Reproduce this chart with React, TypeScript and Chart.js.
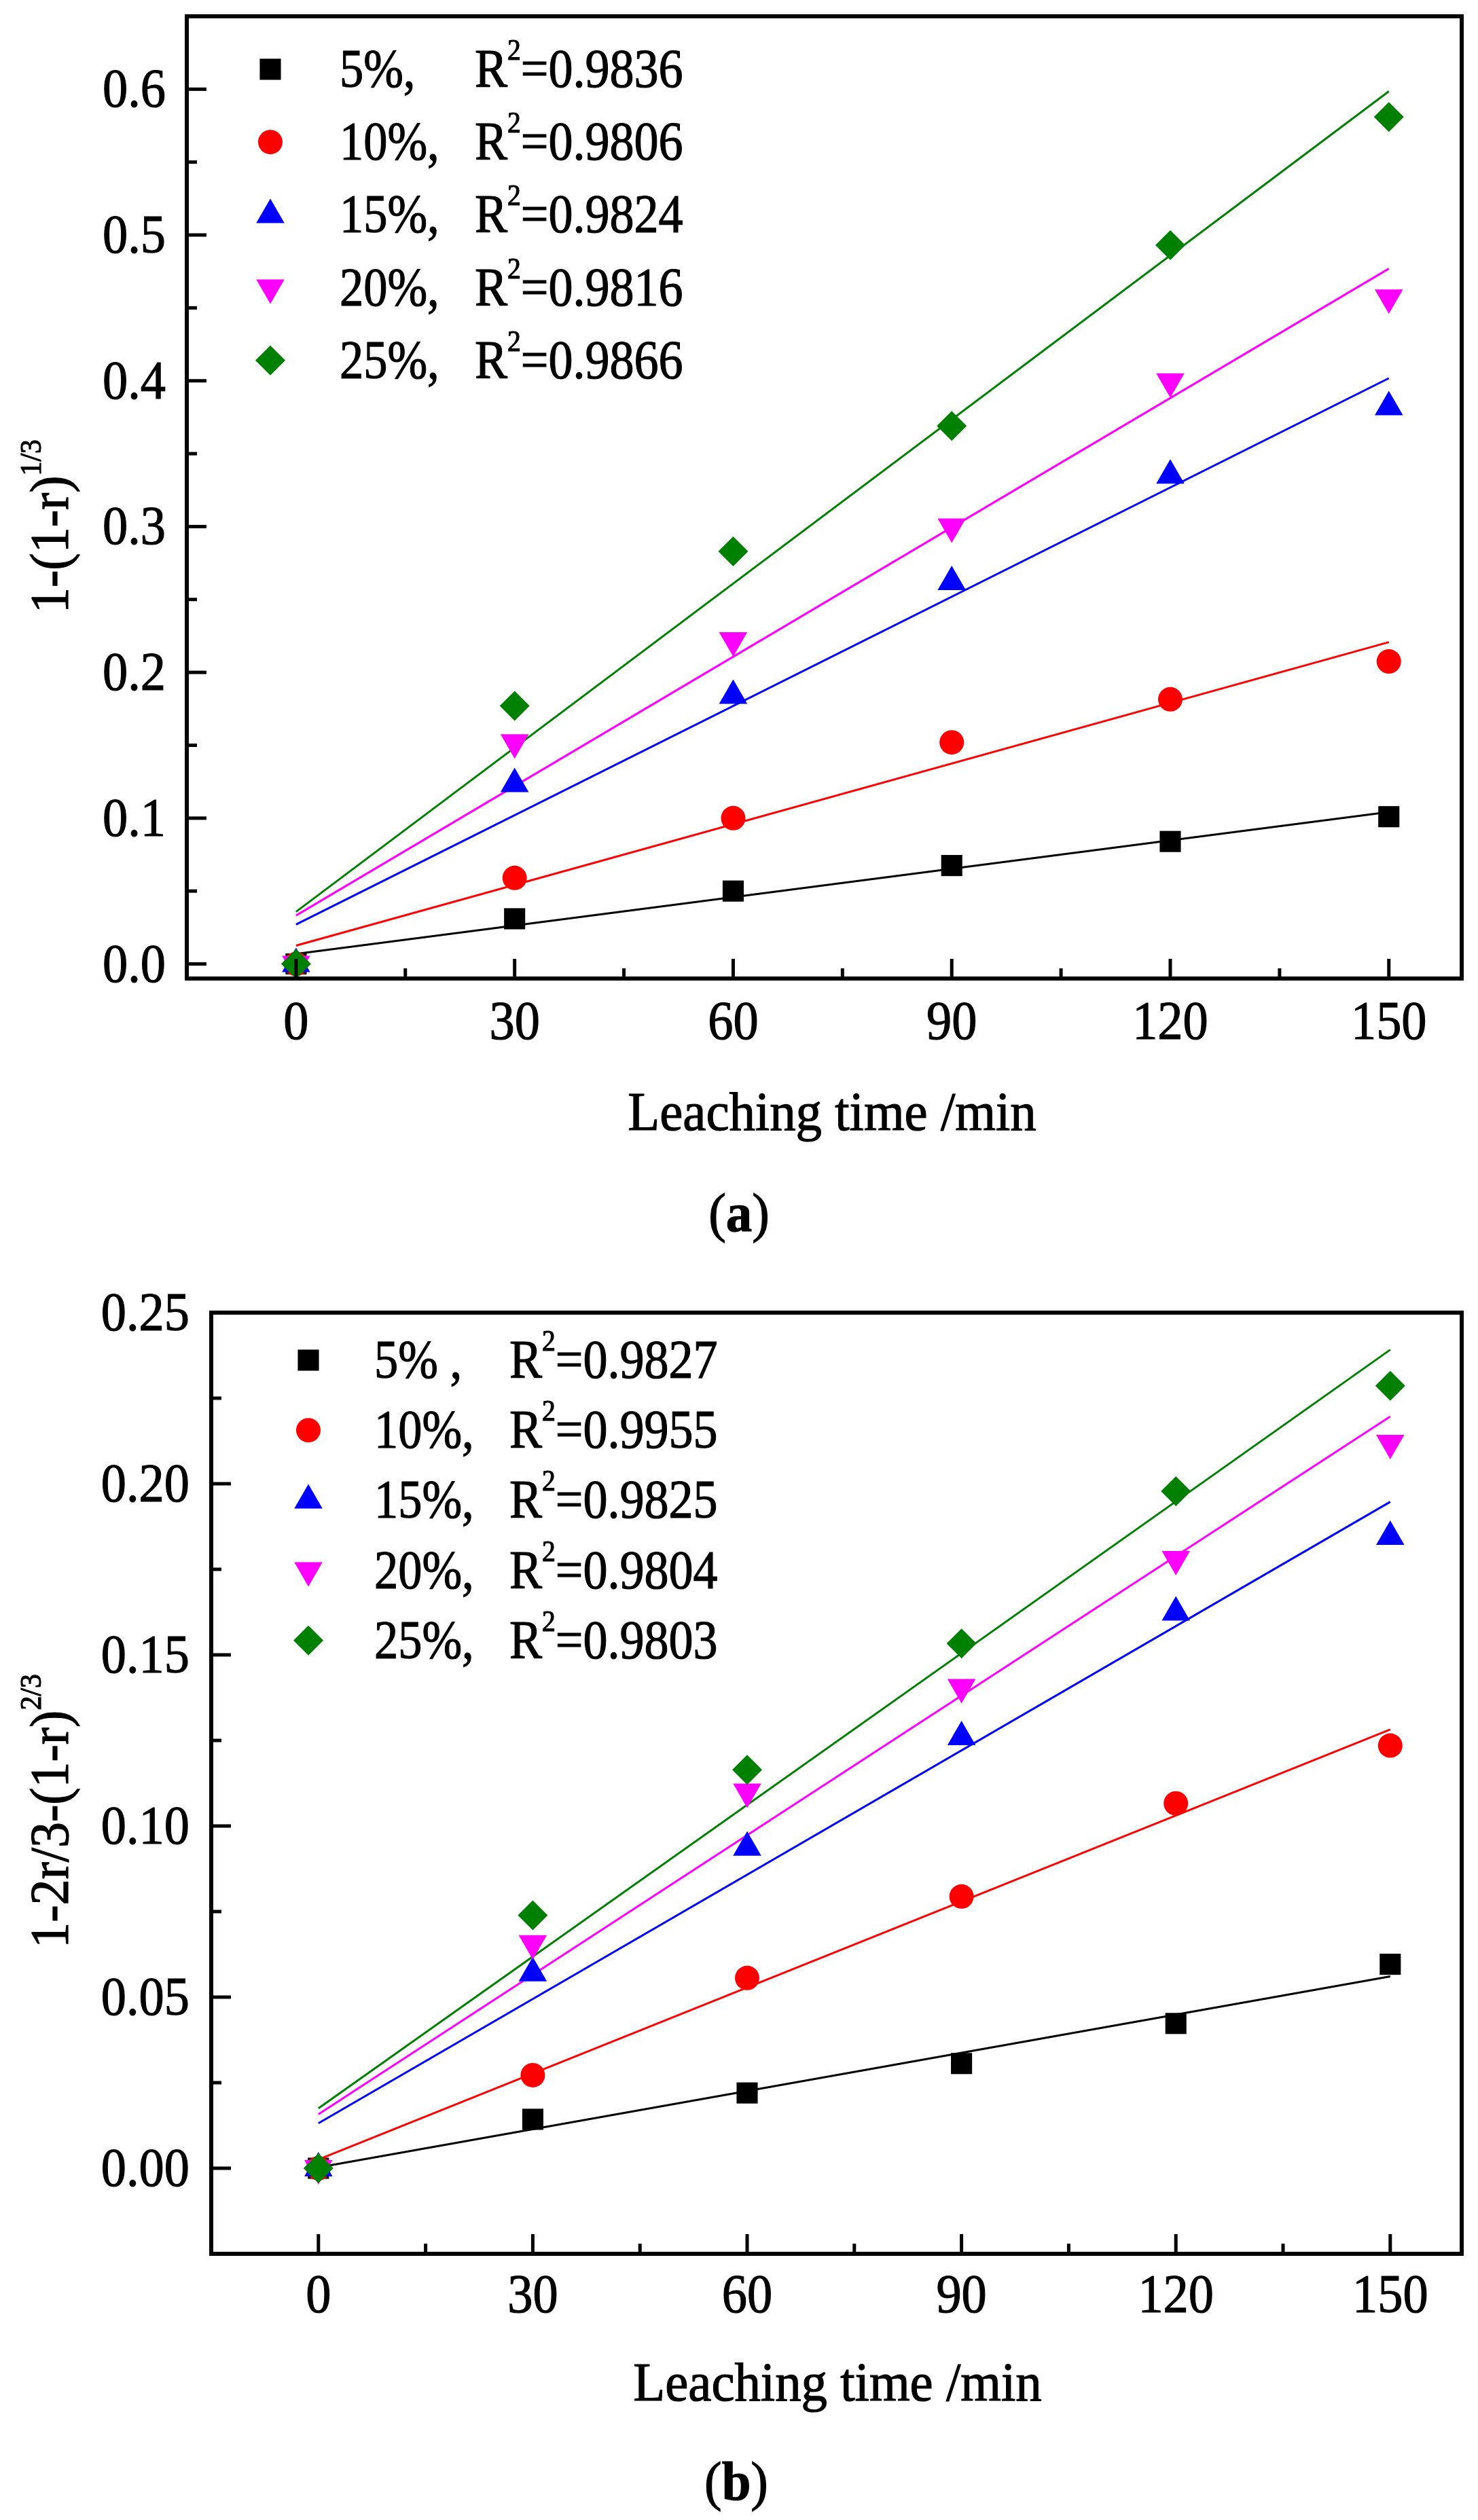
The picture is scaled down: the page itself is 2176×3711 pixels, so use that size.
import React, { useRef, useEffect } from "react";
import Chart from "chart.js/auto";
import { drawPoint } from "chart.js/helpers";

const FONT = "'Liberation Serif', 'Times New Roman', serif";
const W = 2176;
const SIZE = 80;

// leaching time, min
const leachTimes = [0, 30, 60, 90, 120, 150];
const xTicks = [0, 30, 60, 90, 120, 150];

const concLabelsA = ["5%,", "10%,", "15%,", "20%,", "25%,"];
const concLabelsB = ["5% ,", "10%,", "15%,", "20%,", "25%,"];
const r2A = ["0.9836", "0.9806", "0.9824", "0.9816", "0.9866"];
const r2B = ["0.9827", "0.9955", "0.9825", "0.9804", "0.9803"];

// (a) 1-(1-r)^(1/3)
const a5 = [0, 0.031, 0.05, 0.0675, 0.084, 0.101];
const a10 = [0, 0.059, 0.1, 0.152, 0.1815, 0.2075];
const a15 = [0, 0.1235, 0.184, 0.262, 0.335, 0.382];
const a20 = [0, 0.152, 0.222, 0.3, 0.3995, 0.457];
const a25 = [0, 0.177, 0.283, 0.369, 0.493, 0.581];
const yTicksA = [0, 0.1, 0.2, 0.3, 0.4, 0.5, 0.6];

// (b) 1-2r/3-(1-r)^(2/3)
const b5 = [0, 0.0143, 0.022, 0.0306, 0.0423, 0.0596];
const b10 = [0, 0.0272, 0.0556, 0.0794, 0.1066, 0.1235];
const b15 = [0, 0.057, 0.0937, 0.126, 0.1624, 0.1845];
const b20 = [0, 0.0657, 0.11, 0.1406, 0.178, 0.2119];
const b25 = [0, 0.0739, 0.1164, 0.1533, 0.1978, 0.2286];
const yTicksB = [0, 0.05, 0.1, 0.15, 0.2, 0.25];

const colors = ["#000000", "#ff0000", "#0000ff", "#ff00ff", "#008000"];
const markerStyles = ["rect", "circle", "triangle", "triangle", "rectRot"];
const markerRotation = [0, 0, 0, 180, 0];
const markerRadius = [22, 18, 24, 24, 22];

// least squares line through the points, drawn from first to last time
function linFit(xs: number[], ys: number[]) {
	const n = xs.length;
	const mx = xs.reduce((s, v) => s + v, 0) / n;
	const my = ys.reduce((s, v) => s + v, 0) / n;
	let sxy = 0;
	let sxx = 0;
	for (let i = 0; i < n; i++) {
		sxy += (xs[i] - mx) * (ys[i] - my);
		sxx += (xs[i] - mx) * (xs[i] - mx);
	}
	const b = sxy / sxx;
	const a = my - b * mx;
	return [
		{ x: xs[0], y: a + b * xs[0] },
		{ x: xs[n - 1], y: a + b * xs[n - 1] },
	];
}

// text runs, squeezed a little sideways like the original figure
type Run = { t: string; size: number; rise?: number; bold?: boolean };

function runFont(r: Run) {
	return `${r.bold ? "bold " : ""}${r.size}px ${FONT}`;
}

function runsWidth(ctx, runs: Run[], sx: number) {
	let w = 0;
	runs.forEach((r) => {
		ctx.font = runFont(r);
		w += ctx.measureText(r.t).width;
	});
	return w * sx;
}

// align: 0 left, 0.5 centre, 1 right
function drawRuns(ctx, runs: Run[], x: number, base: number, sx: number, align = 0) {
	const w = runsWidth(ctx, runs, sx);
	ctx.save();
	ctx.translate(x - w * align, base);
	ctx.scale(sx, 1);
	ctx.textAlign = "left";
	ctx.textBaseline = "alphabetic";
	ctx.lineWidth = 1.2;
	ctx.strokeStyle = ctx.fillStyle;
	let cx = 0;
	runs.forEach((r) => {
		ctx.font = runFont(r);
		const y = -(r.rise || 0);
		ctx.fillText(r.t, cx, y);
		ctx.strokeText(r.t, cx, y);
		cx += ctx.measureText(r.t).width;
	});
	ctx.restore();
}

const sup = (t: string): Run => ({ t, size: SIZE * 0.55, rise: SIZE * 0.5 });
const txt = (t: string): Run => ({ t, size: SIZE });

interface PanelProps {
	top: number;
	height: number;
	series: number[][];
	labels: string[];
	r2: string[];
	yMin: number;
	yMax: number;
	yTicks: number[];
	decimals: number;
	area: { left: number; top: number; right: number; bottom: number };
	yLabelGap: number;
	xLabelDrop: number;
	yTitle: string;
	ySup: string;
	yTitleX: number;
	yTitleY: number;
	legend: { markerX: number; textX: number; r2X: number; firstY: number; step: number };
	xTitleX: number;
	xTitleBase: number;
	caption: string;
	captionX: number;
	captionBase: number;
}

const Panel: React.FC<PanelProps> = (p) => {
	const chartRef = useRef<HTMLCanvasElement | null>(null);
	const chartInstance = useRef<Chart | null>(null);

	useEffect(() => {
		if (chartInstance.current) {
			chartInstance.current.destroy();
			chartInstance.current = null;
		}
		if (!chartRef.current) return;
		const ctx = chartRef.current.getContext("2d");

		const datasets: any[] = [];
		p.series.forEach((ys, i) => {
			datasets.push({
				label: p.labels[i] + " fit",
				data: linFit(leachTimes, ys),
				showLine: true,
				borderColor: colors[i],
				borderWidth: 3,
				pointRadius: 0,
				fill: false,
				order: 10 + (4 - i),
			});
		});
		p.series.forEach((ys, i) => {
			datasets.push({
				label: p.labels[i],
				data: leachTimes.map((x, k) => ({ x, y: ys[k] })),
				showLine: false,
				pointStyle: markerStyles[i],
				pointRotation: markerRotation[i],
				pointRadius: markerRadius[i],
				pointBackgroundColor: colors[i],
				pointBorderColor: colors[i],
				pointBorderWidth: 0,
				order: 4 - i,
			});
		});

		const decor = {
			id: "decor",
			afterDraw(chart) {
				const c = chart.ctx;
				const ca = chart.chartArea;
				const xs = chart.scales.x;
				const ys = chart.scales.y;
				c.save();
				c.strokeStyle = "#000";
				c.fillStyle = "#000";

				// ticks pointing inward
				c.lineWidth = 5;
				xTicks.forEach((v, i) => {
					const px = xs.getPixelForValue(v);
					c.beginPath();
					c.moveTo(px, ca.bottom);
					c.lineTo(px, ca.bottom - 29);
					c.stroke();
					if (i > 0) {
						const mx = xs.getPixelForValue((v + xTicks[i - 1]) / 2);
						c.beginPath();
						c.moveTo(mx, ca.bottom);
						c.lineTo(mx, ca.bottom - 15);
						c.stroke();
					}
				});
				p.yTicks.forEach((v, i) => {
					const py = ys.getPixelForValue(v);
					c.beginPath();
					c.moveTo(ca.left, py);
					c.lineTo(ca.left + 29, py);
					c.stroke();
					if (i > 0) {
						const my = ys.getPixelForValue((v + p.yTicks[i - 1]) / 2);
						c.beginPath();
						c.moveTo(ca.left, my);
						c.lineTo(ca.left + 15, my);
						c.stroke();
					}
				});
				const last = p.yTicks[p.yTicks.length - 1];
				const step = p.yTicks[1] - p.yTicks[0];
				if (last + step / 2 < p.yMax) {
					const my = ys.getPixelForValue(last + step / 2);
					c.beginPath();
					c.moveTo(ca.left, my);
					c.lineTo(ca.left + 15, my);
					c.stroke();
				}

				// frame
				c.lineWidth = 6;
				c.strokeRect(ca.left, ca.top, ca.right - ca.left, ca.bottom - ca.top);

				// tick labels from the scales' own ticks
				xs.ticks.forEach((t) => {
					drawRuns(c, [txt(String(t.value))], xs.getPixelForValue(t.value), ca.bottom + p.xLabelDrop, 0.93, 0.5);
				});
				ys.ticks.forEach((t) => {
					drawRuns(
						c,
						[txt(Number(t.value).toFixed(p.decimals))],
						ca.left - p.yLabelGap,
						ys.getPixelForValue(t.value) + 26,
						0.93,
						1
					);
				});

				// legend
				p.labels.forEach((lab, i) => {
					const y = p.legend.firstY + i * p.legend.step;
					c.fillStyle = colors[i];
					drawPoint(
						c,
						{
							pointStyle: markerStyles[i],
							rotation: markerRotation[i],
							radius: markerRadius[i],
							borderWidth: 0,
						},
						p.legend.markerX,
						y
					);
					c.fillStyle = "#000";
					drawRuns(c, [txt(lab)], p.legend.textX, y + 26, 0.88);
					drawRuns(c, [txt("R"), sup("2"), txt("=" + p.r2[i])], p.legend.r2X, y + 26, 0.9);
				});

				// y title
				c.save();
				c.translate(p.yTitleX, p.yTitleY);
				c.rotate(-Math.PI / 2);
				drawRuns(c, [txt(p.yTitle), sup(p.ySup)], 0, 0, 0.95, 0.5);
				c.restore();

				// x title
				drawRuns(c, [txt("Leaching time /min")], p.xTitleX, p.xTitleBase, 0.96, 0.5);

				// caption with bold letter
				drawRuns(
					c,
					[txt("("), { t: p.caption, size: SIZE, bold: true }, txt(")")],
					p.captionX,
					p.captionBase,
					0.96,
					0.5
				);
				c.restore();
			},
		};

		chartInstance.current = new Chart(ctx, {
			type: "scatter",
			data: { datasets },
			options: {
				responsive: false,
				maintainAspectRatio: false,
				devicePixelRatio: 1,
				animation: false,
				events: [],
				layout: {
					padding: { top: p.area.top, right: W - p.area.right, left: 0, bottom: 0 },
				},
				plugins: {
					legend: { display: false },
					tooltip: { enabled: false },
				},
				scales: {
					x: {
						type: "linear",
						min: -15,
						max: 160,
						grid: { display: false },
						border: { display: false },
						ticks: { display: false },
						afterBuildTicks: (s) => {
							s.ticks = xTicks.map((v) => ({ value: v }));
						},
						afterFit: (s) => {
							s.height = p.height - p.area.bottom;
						},
					},
					y: {
						type: "linear",
						min: p.yMin,
						max: p.yMax,
						grid: { display: false },
						border: { display: false },
						ticks: { display: false },
						afterBuildTicks: (s) => {
							s.ticks = p.yTicks.map((v) => ({ value: v }));
						},
						afterFit: (s) => {
							s.width = p.area.left;
						},
					},
				},
			},
			plugins: [decor],
		});

		return () => {
			if (chartInstance.current) {
				chartInstance.current.destroy();
				chartInstance.current = null;
			}
		};
	}, []);

	return (
		<canvas
			ref={chartRef}
			width={W}
			height={p.height}
			style={{ position: "absolute", left: 0, top: p.top, width: W, height: p.height }}
		></canvas>
	);
};

const App: React.FC = () => {
	return (
		<div style={{ position: "absolute", left: 0, top: 0, width: W, height: 3711, background: "#fff" }}>
			<Panel
				top={0}
				height={1850}
				series={[a5, a10, a15, a20, a25]}
				labels={concLabelsA}
				r2={r2A}
				yMin={-0.01}
				yMax={0.65}
				yTicks={yTicksA}
				decimals={1}
				area={{ left: 275, top: 14, right: 2160, bottom: 1441 }}
				yLabelGap={31}
				xLabelDrop={89}
				yTitle="1-(1-r)"
				ySup="1/3"
				yTitleX={100}
				yTitleY={775}
				legend={{ markerX: 398, textX: 500, r2X: 699, firstY: 102, step: 107.2 }}
				xTitleX={1225}
				xTitleBase={1664}
				caption="a"
				captionX={1088}
				captionBase={1813}
			/>
			<Panel
				top={1850}
				height={1861}
				series={[b5, b10, b15, b20, b25]}
				labels={concLabelsB}
				r2={r2B}
				yMin={-0.025}
				yMax={0.25}
				yTicks={yTicksB}
				decimals={2}
				area={{ left: 311, top: 83, right: 2155, bottom: 1469 }}
				yLabelGap={32}
				xLabelDrop={86}
				yTitle="1-2r/3-(1-r)"
				ySup="2/3"
				yTitleX={100}
				yTitleY={817}
				legend={{ markerX: 454, textX: 551, r2X: 750, firstY: 153, step: 103.2 }}
				xTitleX={1233}
				xTitleBase={1685}
				caption="b"
				captionX={1084}
				captionBase={1831}
			/>
		</div>
	);
};

export default App;
